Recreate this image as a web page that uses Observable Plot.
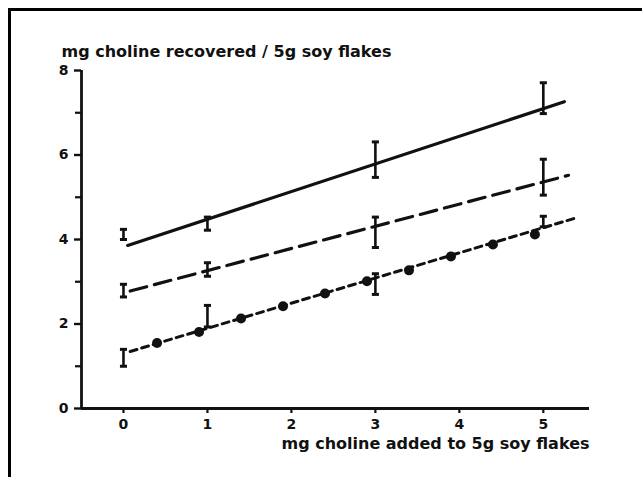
<!DOCTYPE html>
<html><head><meta charset="utf-8">
<script src="https://cdn.jsdelivr.net/npm/d3@7"></script>
<script src="https://cdn.jsdelivr.net/npm/@observablehq/plot@0.6"></script>
<style>
html,body{margin:0;padding:0;background:#fff;width:642px;height:477px;overflow:hidden;}
#wrap{position:relative;width:642px;height:477px;}
#wrap svg{position:absolute;left:0;top:0;}
#frame{position:absolute;left:8px;top:8px;right:-10px;bottom:-10px;border-top:3px solid #000;border-left:3px solid #000;pointer-events:none;}
</style></head><body><div id="wrap"><div id="frame"></div></div>
<script>
const xTicks = [0, 1, 2, 3, 4, 5];
const yTicks = [0, 2, 4, 6, 8];
const yMinorTicks = [1, 3, 5, 7];
const errX = [0, 1, 3, 5];
const solidLo = [4.00, 4.22, 5.47, 6.98];
const solidHi = [4.24, 4.53, 6.31, 7.71];
const dashLo = [2.64, 3.13, 3.81, 5.05];
const dashHi = [2.94, 3.45, 4.53, 5.90];
const dotLo = [1.00, 1.93, 2.70, 4.30];
const dotHi = [1.40, 2.44, 3.19, 4.55];
const dotX = [0.4, 0.9, 1.4, 1.9, 2.4, 2.9, 3.4, 3.9, 4.4, 4.9];
const dotY = [1.55, 1.81, 2.13, 2.42, 2.72, 3.01, 3.27, 3.60, 3.88, 4.12];
const solidLineX = [0.05, 5.25], solidLineY = [3.86, 7.26];
const dashLineX = [0.08, 5.30], dashLineY = [2.78, 5.52];
const dotLineX = [0.08, 5.37], dotLineY = [1.35, 4.50];
const yTitle = "mg choline recovered / 5g soy flakes";
const xTitle = "mg choline added to 5g soy flakes";

const ink = "#111";
const font = "DejaVu Sans";
const errs = [];
errX.forEach((x, i) => {
  errs.push({x, lo: solidLo[i], hi: solidHi[i]});
  errs.push({x, lo: dashLo[i], hi: dashHi[i]});
  errs.push({x, lo: dotLo[i], hi: dotHi[i]});
});
const caps = errs.flatMap(d => [{x: d.x, y: d.lo}, {x: d.x, y: d.hi}]);
const line = (xs, ys) => xs.map((x, i) => ({x, y: ys[i]}));
const dots = dotX.map((x, i) => ({x, y: dotY[i]}));
const capSymbol = {draw(ctx, size) { const w = Math.sqrt(size); ctx.moveTo(-w / 2, 0); ctx.lineTo(w / 2, 0); }};

const chart = Plot.plot({
  width: 642, height: 477,
  marginLeft: 81, marginRight: 53, marginTop: 70, marginBottom: 69,
  style: {fontFamily: font, fontSize: "14px", fontWeight: "bold", color: ink, background: "transparent"},
  x: {domain: [-0.5, 5.55]},
  y: {domain: [0, 8]},
  marks: [
    Plot.axisY({ticks: yTicks, tickSize: 7, tickPadding: 6, label: null, strokeWidth: 2.4, fontSize: 14}),
    Plot.axisY({ticks: yMinorTicks, tickSize: 6, text: null, label: null, strokeWidth: 2.2}),
    Plot.axisX({ticks: xTicks, tickSize: 5, text: null, label: null, strokeWidth: 2.2}),
    Plot.text(xTicks, {x: d => d, text: d => `${d}`, frameAnchor: "bottom", dy: 20, fontSize: 14, fontWeight: "bold", fill: ink}),
    Plot.ruleX([-0.5], {stroke: ink, strokeWidth: 2.8}),
    Plot.ruleY([0], {stroke: ink, strokeWidth: 2.8}),
    Plot.line(line(solidLineX, solidLineY), {x: "x", y: "y", stroke: ink, strokeWidth: 3.2}),
    Plot.line(line(dashLineX, dashLineY), {x: "x", y: "y", stroke: ink, strokeWidth: 3.2, strokeDasharray: "17,8"}),
    Plot.line(line(dotLineX, dotLineY), {x: "x", y: "y", stroke: ink, strokeWidth: 3, strokeDasharray: "7,5"}),
    Plot.dot(dots, {x: "x", y: "y", r: 5, fill: ink, stroke: "none"}),
    Plot.ruleX(errs, {x: "x", y1: "lo", y2: "hi", stroke: ink, strokeWidth: 2.6}),
    Plot.dot(caps, {x: "x", y: "y", r: 4, symbol: capSymbol, fill: "none", stroke: ink, strokeWidth: 3}),
    Plot.text([yTitle], {frameAnchor: "top-left", dx: -20, dy: -25, textAnchor: "start", fontSize: 16, fontWeight: "bold", fill: ink, style: "letter-spacing:1.5px"}),
    Plot.text([xTitle], {frameAnchor: "bottom-right", dy: 40, textAnchor: "end", fontSize: 16, fontWeight: "bold", fill: ink, style: "letter-spacing:2px"})
  ]
});
document.getElementById("wrap").prepend(chart);
</script></body></html>
